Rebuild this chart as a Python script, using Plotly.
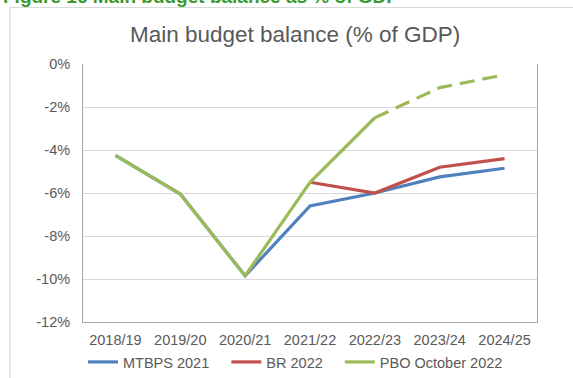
import plotly.graph_objects as go

years = ["2018/19", "2019/20", "2020/21", "2021/22", "2022/23", "2023/24", "2024/25"]

mtbps_2021 = [-4.25, -6.05, -9.85, -6.6, -6.0, -5.25, -4.85]
br_2022 = [None, None, None, -5.5, -6.0, -4.8, -4.4]
pbo_actual = [-4.25, -6.05, -9.85, -5.5, -2.5, None, None]
pbo_projection = [None, None, None, None, -2.5, -1.1, -0.5]

y_ticks = [0, -2, -4, -6, -8, -10, -12]
y_tick_labels = [f"{v}%" for v in y_ticks]

BLUE = "#4F81BD"
RED = "#C0504D"
GREEN = "#9BBB59"
TEXT = "#595959"
PAD = "\u00a0\u00a0\u00a0"  # extra room between legend entries

fig = go.Figure()
fig.add_trace(go.Scatter(x=years, y=mtbps_2021, mode="lines", name="MTBPS 2021" + PAD,
                         line=dict(color=BLUE, width=3.2)))
fig.add_trace(go.Scatter(x=years, y=br_2022, mode="lines", name="BR 2022" + PAD,
                         line=dict(color=RED, width=3.2)))
fig.add_trace(go.Scatter(x=years, y=pbo_actual, mode="lines", name="PBO October 2022",
                         line=dict(color=GREEN, width=3.2)))
fig.add_trace(go.Scatter(x=years, y=pbo_projection, mode="lines", showlegend=False,
                         line=dict(color=GREEN, width=3.2, dash="15px,8px")))

W, H = 573, 378
L, R, T, B = 83, 36, 64, 56
pw, ph = W - L - R, H - T - B

def px_x(x):
    return (x - L) / pw

def px_y(y):
    return 1 - (y - T) / ph

fig.update_layout(
    width=W, height=H,
    margin=dict(l=L, r=R, t=T, b=B, autoexpand=False),
    paper_bgcolor="white", plot_bgcolor="white",
    font=dict(family="Liberation Sans, Arial, sans-serif", size=14.5, color=TEXT),
    title=dict(text="Main budget balance (% of GDP)", x=0.515, xanchor="center",
               y=1 - 34 / H, yanchor="middle",
               font=dict(size=22.5, color=TEXT)),
    showlegend=True,
    legend=dict(orientation="h", x=px_x(83), xanchor="left", y=px_y(362), yanchor="middle",
                font=dict(size=14.5, color=TEXT), itemwidth=30, tracegroupgap=0),
    xaxis=dict(range=[-0.5, 6.5], showgrid=False, showline=True, linecolor="#A6A6A6",
               linewidth=1, ticks="", ticklabelstandoff=5,
               tickfont=dict(size=14.5, color=TEXT), fixedrange=True),
    yaxis=dict(range=[-12, 0], tickmode="array", tickvals=y_ticks, ticktext=y_tick_labels,
               showgrid=True, gridcolor="#D9D9D9", gridwidth=1, zeroline=False,
               showline=True, mirror=True, linecolor="#A6A6A6", linewidth=1,
               ticks="", ticklabelstandoff=9, tickfont=dict(size=14.5, color=TEXT)),
    shapes=[
        # outer chart frame
        dict(type="rect", xref="paper", yref="paper",
             x0=px_x(10), x1=px_x(W + 5), y0=px_y(H + 5), y1=px_y(7.5),
             line=dict(color="#D9D9D9", width=1.2), fillcolor="rgba(0,0,0,0)",
             layer="below"),
    ],
    annotations=[
        dict(text="<b>Figure 16 Main budget balance as % of GDP</b>",
             xref="paper", yref="paper", x=px_x(1), y=px_y(-4),
             xanchor="left", yanchor="middle", showarrow=False,
             font=dict(size=19, color="#3A9A2E")),
    ],
)

fig.write_html("out.html")
